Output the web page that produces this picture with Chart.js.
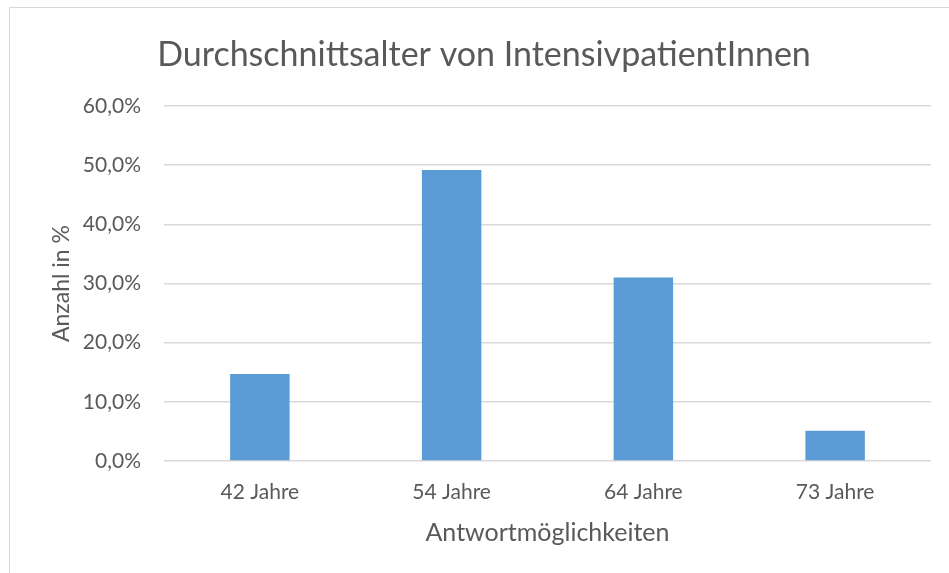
<!DOCTYPE html>
<html>
<head>
<meta charset="utf-8">
<script src="https://cdn.jsdelivr.net/npm/chart.js@4"></script>
<style>
  html, body { margin: 0; padding: 0; background: #ffffff; }
  #wrap { position: relative; width: 949px; height: 573px; }
  #frame { position: absolute; left: 9px; top: 7px; right: 0; bottom: 0; border-top: 1.5px solid #d9d9d9; border-left: 1.5px solid #d9d9d9; pointer-events: none; }
  canvas { position: absolute; left: 0; top: 0; }
</style>
</head>
<body>
<div id="wrap">
  <canvas id="c" width="949" height="573"></canvas>
  <div id="frame"></div>
</div>
<script>
const titleText = "Durchschnittsalter von IntensivpatientInnen";
const categories = ["42 Jahre", "54 Jahre", "64 Jahre", "73 Jahre"];
const percentValues = [14.7, 49.2, 31.0, 5.1];
const yTickMax = 60;
const yTickStep = 10;
const xAxisTitle = "Antwortmöglichkeiten";
const yAxisTitle = "Anzahl in %";

const FONT = "Lato, 'Open Sans', sans-serif";
const GREY = "#595959";

new Chart(document.getElementById('c'), {
  type: 'bar',
  data: {
    labels: categories,
    datasets: [{
      data: percentValues,
      backgroundColor: '#5B9BD5',
      borderWidth: 0,
      barPercentage: 0.31,
      categoryPercentage: 1.0
    }]
  },
  options: {
    responsive: false,
    animation: false,
    devicePixelRatio: 1,
    layout: { padding: { left: 37, right: 18, top: 0, bottom: 0 } },
    plugins: {
      legend: { display: false },
      tooltip: { enabled: false },
      title: {
        display: true,
        text: titleText,
        color: GREY,
        font: { family: FONT, size: 34, weight: 'normal', lineHeight: 1.2 },
        padding: { top: 34.6, bottom: 30.6 }
      }
    },
    scales: {
      x: {
        grid: { display: false, drawTicks: false },
        border: { display: false },
        ticks: { color: GREY, font: { family: FONT, size: 21 }, padding: 19 },
        title: { display: true, text: xAxisTitle, color: GREY, font: { family: FONT, size: 25, lineHeight: 1.2 }, padding: { top: 0, bottom: 25 } },
        afterFit: (s) => { s.height = 112; }
      },
      y: {
        min: 0,
        max: yTickMax,
        grid: { color: '#d9d9d9', lineWidth: 1.5, drawTicks: false },
        border: { display: false },
        ticks: {
          stepSize: yTickStep,
          color: GREY,
          font: { family: FONT, size: 21 },
          padding: 23,
          callback: (v) => v.toFixed(1).replace('.', ',') + '%'
        },
        title: { display: true, text: yAxisTitle, color: GREY, font: { family: FONT, size: 23, lineHeight: 1.2 }, padding: { top: 10.7, bottom: 0 } },
        afterFit: (s) => { s.width = 127; }
      }
    }
  }
});
</script>
</body>
</html>
